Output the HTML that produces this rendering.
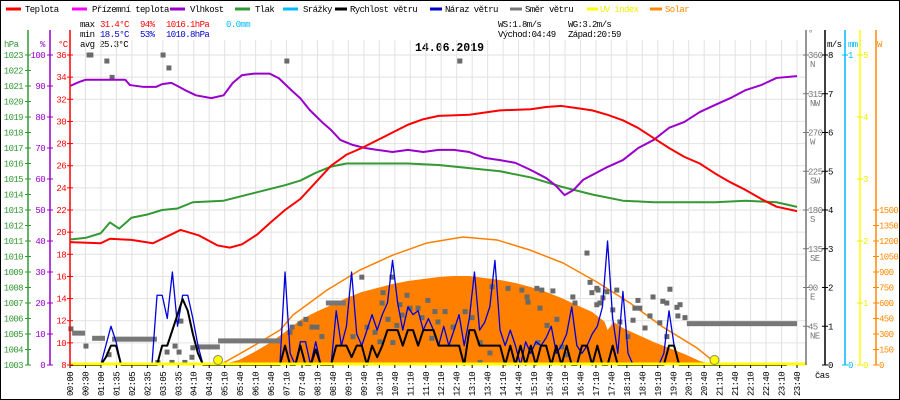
<!DOCTYPE html>
<html><head><meta charset="utf-8"><style>
html,body{margin:0;padding:0;background:#fff}
svg{display:block}
text{font-family:"Liberation Mono",monospace;font-size:9px;letter-spacing:-0.6px}
</style></head><body>
<svg id="chart" width="900" height="400" viewBox="0 0 900 400" xmlns="http://www.w3.org/2000/svg">
<rect x="0.5" y="0.5" width="899" height="399" fill="#fff" stroke="#000"/>
<g id="legend">
<line x1="6" y1="9" x2="21" y2="9" stroke="#f00" stroke-width="3"/><text x="25" y="12">Teplota</text>
<line x1="72" y1="9" x2="87" y2="9" stroke="#f0f" stroke-width="3"/><text x="92" y="12">Přízemní teplota</text>
<line x1="170" y1="9" x2="185" y2="9" stroke="#90c" stroke-width="3"/><text x="190" y="12">Vlhkost</text>
<line x1="235" y1="9" x2="250" y2="9" stroke="#393" stroke-width="3"/><text x="255" y="12">Tlak</text>
<line x1="283" y1="9" x2="298" y2="9" stroke="#0bf" stroke-width="3"/><text x="303" y="12">Srážky</text>
<line x1="335" y1="9" x2="347" y2="9" stroke="#000" stroke-width="3"/><text x="350" y="12">Rychlost větru</text>
<line x1="430" y1="9" x2="442" y2="9" stroke="#00c" stroke-width="3"/><text x="445" y="12">Náraz větru</text>
<line x1="510" y1="9" x2="522" y2="9" stroke="#777" stroke-width="3"/><text x="525" y="12">Směr větru</text>
<line x1="587" y1="9" x2="598" y2="9" stroke="#ff0" stroke-width="3"/><text x="600" y="12" fill="#ee0">UV index</text>
<line x1="650" y1="9" x2="662" y2="9" stroke="#f80" stroke-width="3"/><text x="665" y="12" fill="#f80">Solar</text>
</g>
<g id="stats">
<text x="80" y="27">max</text><text x="100" y="27" fill="#f00">31.4°C</text><text x="140" y="27" fill="#f00">94%</text><text x="166" y="27" fill="#f00">1016.1hPa</text><text x="226" y="27" fill="#0bf">0.0mm</text>
<text x="80" y="37">min</text><text x="100" y="37" fill="#00c">18.5°C</text><text x="140" y="37" fill="#00c">53%</text><text x="166" y="37" fill="#00c">1010.8hPa</text>
<text x="80" y="47">avg 25.3°C</text>
<text x="498" y="27">WS:1.8m/s</text><text x="568" y="27">WG:3.2m/s</text>
<text x="498" y="37">Východ:04:49</text><text x="568" y="37">Západ:20:59</text>
</g>
<text x="415" y="51" style="font-size:11.5px;font-weight:bold;letter-spacing:0">14.06.2019</text>
<g id="grid"></g>
<g id="series"></g>
<g id="axes"></g>
</svg>
<script>
// ---- data ----
const timeLabels=["00:00","00:30","01:00","01:35","02:05","02:35","03:05","03:35","04:10","04:40","05:10","05:40","06:10","06:40","07:10","07:40","08:10","08:40","09:10","09:40","10:10","10:40","11:10","11:40","12:10","12:40","13:10","13:40","14:10","14:40","15:10","15:40","16:10","16:40","17:10","17:40","18:10","18:40","19:10","19:40","20:10","20:40","21:10","21:40","22:10","22:40","23:10","23:40"];
const tempHours=[0,1.0,1.3,2.0,2.7,3.6,4.2,4.8,5.2,5.6,6.1,6.5,7.0,7.5,8.0,8.5,9.0,9.5,10.0,10.5,11.0,11.5,12,13,14,15,15.5,16,16.5,17,17.5,18,18.5,19,19.5,20,20.5,21,21.5,22,22.5,23,23.67];
const tempVals=[19.1,19.0,19.4,19.3,19.0,20.2,19.7,18.8,18.6,18.9,19.8,20.8,22.0,23.0,24.5,26.0,27.0,27.6,28.3,29.0,29.7,30.2,30.5,30.6,31.0,31.1,31.3,31.4,31.2,31.0,30.6,30.1,29.4,28.5,27.6,26.8,26.2,25.3,24.5,23.8,23.0,22.3,21.9];
const humHours=[0,0.3,0.5,1.8,1.95,2.4,2.8,3.0,3.3,3.5,3.8,4.1,4.6,5.0,5.3,5.6,6.0,6.5,6.8,7.2,7.5,7.8,8.2,8.5,8.8,9.2,9.6,10,10.5,11,11.5,12,12.5,13,13.5,14,14.5,15,15.5,15.8,16.1,16.4,16.7,17,17.5,18,18.5,19,19.5,20,20.5,21,21.5,22,22.5,23,23.67];
const humVals=[90,91.3,92,92,90.3,89.7,89.7,90.6,91,90,88.4,87,86.1,87,91,93.5,94,94,92.5,88.7,86,82.3,78.4,75.8,72.6,71,70,69.4,68.7,69.4,68.7,69.4,69.4,68.7,66.8,66.1,65.2,62.9,60.3,58,54.8,56.5,59.7,61.3,63.9,66.1,70,72.6,76.5,78.4,81.6,83.9,86.1,88.7,90.3,92.6,93.2];
const presHours=[0,0.5,1.0,1.3,1.6,2.0,2.5,3.0,3.5,4.0,5,6,7,7.5,8,8.5,9,10,11,12,13,14,15,16,17,18,19,20,21,22,23,23.67];
const presVals=[1011.1,1011.2,1011.5,1012.2,1011.8,1012.5,1012.7,1013,1013.1,1013.5,1013.6,1014.1,1014.6,1014.9,1015.4,1015.8,1016.0,1016.0,1016.0,1015.9,1015.7,1015.5,1015.1,1014.5,1014.0,1013.6,1013.5,1013.5,1013.5,1013.6,1013.5,1013.2];
const solarHours=[4.88,5.5,6.0,6.5,7.0,7.5,8,8.5,9,9.5,10,10.5,11,11.5,12,12.5,13,13.5,14,14.5,15,15.5,16,16.5,17,17.4,17.5,17.7,18,18.5,19,19.5,20,20.5,21];
const solarVals=[0,48,126,213,319,435,513,580,648,706,745,784,813,832,852,861,861,842,823,794,755,706,648,580,513,420,339,416,358,290,223,165,106,39,0];
const solarMaxHours=[4.88,5.86,6.84,7.26,8.37,9.44,10.51,11.62,12.79,13.9,14.97,16.05,17.15,18.23,19.3,20.41,20.93,21.0];
const solarMaxVals=[0,165,339,484,726,919,1064,1181,1239,1210,1113,987,803,600,368,165,40,0];
const speedVals=[0,0,0,0,0,0,0,0.2,0.5,0.5,0,0,0,0,0,0,0,0,0.5,0.5,0.9,1.3,1.7,1.4,0.8,0.3,0,0,0,0,0,0,0,0,0,0,0,0,0,0,0,0,0.5,0,0,0.5,0,0,0.4,0,0,0,0.5,0.5,0.5,0.2,0.5,0.5,0,0.5,0.2,0.5,0.9,0.9,0.9,0.5,0.9,0.9,0.5,0.9,0.9,0.9,0.5,0.5,0.5,0.5,0.5,0,0.9,0.9,0.5,0.5,0.5,0.5,0.5,0,0.5,0,0.5,0,0.5,0,0.5,0.5,0,0.5,0,0.5,0,0,0.5,0.5,0,0.5,0,0,0.5,0,0,0,0,0,0,0,0,0,0,0.5,0.5,0,0,0,0,0,0,0,0,0,0,0,0,0,0,0,0,0,0,0,0,0,0];
const gustVals=[0,0,0,0,0,0,0,0.5,1.0,0.6,0,0,0,0,0,0,0,1.8,1.8,1.2,2.4,1.0,1.8,1.8,1.2,0.5,0,0,0,0,0,0,0,0,0,0,0,0,0,0,0,0,2.4,0.3,0,0.6,0.6,0,0.6,0,0,0,1.4,0.5,1.0,2.4,0.8,0.5,0.9,1.3,0.9,1.3,1.6,2.7,1.6,0.9,1.5,1.3,1.4,0.9,1.2,0.9,0.5,1.0,0.5,0.9,1.3,0.5,1.2,2.4,0.9,1.1,1.5,2.7,0.9,0.5,0.9,0.5,0,0.6,0.3,0.6,0.5,0.7,1.0,0.3,0.5,0.8,1.5,0.5,0.3,0.5,0.8,1.0,1.5,3.2,1.2,0.3,1.9,0.3,0,0,0,0,0,0,0.3,1.4,0.5,0,0,0,0,0,0,0,0,0,0,0,0,0,0,0,0,0,0,0,0,0,0];
const dirHours=[0.03,0.52,1.27,2.86,3.16,3.32,3.42,3.61,3.55,3.74,3.97,4.0,7.16,7.23,7.49,7.68,7.88,8.04,8.2,9.5,9.67,9.21,9.93,10.09,10.19,10.16,10.35,10.64,10.74,10.81,10.97,11.07,11.33,11.46,11.65,11.78,11.98,10.48,10.51,11.88,12.21,12.47,12.86,13.09,13.35,13.74,14.26,14.71,14.88,14.91,15.2,15.36,15.3,15.72,15.85,15.53,16.01,16.37,16.44,15.23,16.18,16.83,16.93,16.99,17.19,17.25,17.35,17.15,17.48,17.67,17.8,17.9,18.16,18.33,18.39,18.49,18.55,18.72,18.88,18.98,19.2,19.3,19.43,19.53,19.76,19.86,20.02,19.79,17.15,13.35,19.43,13.67,0.62,0.68,1.2,1.37,3.03,3.22,7.06,12.69];
const dirDegs=[42,22,12,3,15,3,22,51,15,3,9,20,38,44,48,53,44,44,33,102,44,33,38,27,84,72,53,46,70,58,81,66,66,55,75,31,50,102,26,62,62,44,62,55,26,91,89,87,79,73,89,87,66,86,53,46,21,79,72,26,12,130,96,84,87,72,78,70,85,64,87,50,33,52,66,75,66,43,57,79,49,74,72,88,67,70,55,57,89,3,33,14,360,360,353,334,360,345,353,353];
const dirBarStart=[0.07,0.72,1.37,4.13,4.82,8.33,20.08];
const dirBarEnd=[0.49,1.14,2.83,4.88,6.84,8.98,23.67];
const dirBarDeg=[37,31,30,21,28,72,48];
const sunEvents=[4.82,20.98];

// ---- scales ----
const X0=70,X1=797,YT=55,YB=365,HMAX=23.667;
const xH=h=>X0+h/HMAX*(X1-X0);
const yT=t=>YB-(t-8)/28*(YB-YT);
const yHum=p=>YB-p/100*(YB-YT);
const yP=p=>YB-(p-1003)/20*(YB-YT);
const yW=v=>YB-v/8*(YB-YT);
const yDeg=d=>YB-d/360*(YB-YT);
const ySol=w=>YB-w/1500*155;
const NS="http://www.w3.org/2000/svg";
function mk(tag,attrs,parent){const e=document.createElementNS(NS,tag);for(const k in attrs)e.setAttribute(k,attrs[k]);parent.appendChild(e);return e;}
const grid=document.getElementById('grid'),series=document.getElementById('series'),axes=document.getElementById('axes');

timeLabels.forEach((lab,i)=>{
  const x=X0+i*(X1-X0)/(timeLabels.length-1);
  const l=mk('line',{x1:x,y1:40,x2:x,y2:YB,stroke:'#e2e2e2','stroke-width':1},grid);
  
  
  const t=mk('text',{x:0,y:0,transform:`translate(${x+3},396) rotate(-90)`},axes);
  t.textContent=lab;
  
  
  const tk=mk('line',{x1:x,y1:YB,x2:x,y2:YB+3,stroke:'#000'},axes);
  
  
});
for(let t=8;t<=36;t+=2){
  const l=mk('line',{x1:X0,y1:yT(t),x2:806,y2:yT(t),stroke:'#e2e2e2'},grid);
  
  
}

{
  let d=`M${xH(solarHours[0])},${YB}`;
  solarHours.forEach((h,i)=>{d+=` L${xH(h)},${ySol(solarVals[i])}`});
  d+=` L${xH(solarHours[solarHours.length-1])},${YB} Z`;
  const p=mk('path',{d,fill:'#ff8000'},series);
  
  
}
function poly(hs,vs,yf,color,w,name){
  const pts=hs.map((h,i)=>`${xH(h)},${yf(vs[i])}`).join(' ');
  const p=mk('polyline',{points:pts,fill:'none',stroke:color,'stroke-width':w,'stroke-linejoin':'round'},series);
  
  
}
poly(solarMaxHours,solarMaxVals,ySol,'#ff8000',1.5,'solar-max-line');
dirBarStart.forEach((s,i)=>{
  const r=mk('rect',{x:xH(s),y:yDeg(dirBarDeg[i])-2.5,width:xH(dirBarEnd[i])-xH(s),height:5,fill:'#777'},series);
  
  
});
dirHours.forEach((h,i)=>{
  const r=mk('rect',{x:xH(h)-2.5,y:yDeg(dirDegs[i])-2.5,width:5,height:5,fill:'#6a6a6a'},series);
  
  
});
const tenMin=speedVals.map((v,i)=>i/6);
poly(tenMin,gustVals,yW,'#0000dd',1.3,'gust-line');
poly(tenMin,speedVals,yW,'#000',2,'wind-speed-line');
poly(presHours,presVals,yP,'#339933',2,'pressure-line');
poly(humHours,humVals,yHum,'#9900cc',2,'humidity-line');
poly(tempHours,tempVals,yT,'#ff0000',2,'temperature-line');
{
  const l=mk('line',{x1:X0,y1:YB-1,x2:806,y2:YB-1,stroke:'#ff0',"stroke-width":3},series);
  
  
}
sunEvents.forEach(h=>{
  const c=mk('circle',{cx:xH(h),cy:YB-5,r:4.5,fill:'#ff0',stroke:'#886'},series);
  
  
});

function vline(x,color,name){const l=mk('line',{x1:x,y1:30,x2:x,y2:YB,stroke:color,'stroke-width':1.5},axes);
  
  }
function lab(x,y,txt,color,anchor,name){const t=mk('text',{x,y,fill:color,'text-anchor':anchor||'start'},axes);t.textContent=txt;
  
  
  return t;}
function tick(x1,x2,y,color){const l=mk('line',{x1,y1:y,x2,y2:y,stroke:color},axes);
  
  }
vline(28,'#339933','pressure-axis');vline(50,'#9900cc','humidity-axis');vline(X0,'#ff0000','temperature-axis');
vline(806,'#777','direction-axis');vline(825,'#000','wind-axis');vline(845,'#0bf','rain-axis');vline(860,'#ff0','uv-axis');vline(876,'#f80','solar-axis');
lab(4,47,'hPa','#339933','start','pressure-axis-title');
lab(40,47,'%','#9900cc','start','humidity-axis-title');
lab(58,47,'°C','#f00','start','temperature-axis-title');
for(let p=1003;p<=1023;p++){tick(25,31,yP(p),'#339933');lab(23,yP(p)+3,String(p),'#339933','end','pressure-tick-label');}
for(let h=0;h<=100;h+=10){tick(47,53,yHum(h),'#9900cc');lab(45,yHum(h)+3,String(h),'#9900cc','end','humidity-tick-label');}
for(let t=8;t<=36;t+=2){tick(67,73,yT(t),'#f00');lab(66,yT(t)+3,String(t),'#f00','end','temperature-tick-label');}
const compass=['','NE','E','SE','S','SW','W','NW','N'];
for(let k=1;k<=8;k++){const d=k*45;tick(803,809,yDeg(d),'#777');lab(808,yDeg(d)+3,String(d),'#777','start','direction-tick-label');lab(810,yDeg(d)+12,compass[k],'#777','start','compass-label');}
lab(808,36,'°','#777','start','direction-axis-title');
for(let v=0;v<=8;v++){tick(822,828,yW(v),'#000');lab(828,yW(v)+3,String(v),'#000','start','wind-tick-label');}
lab(827,47,'m/s','#000','start','wind-axis-title');
lab(848,47,'mm','#0bf','start','rain-axis-title');
tick(842,848,YT,'#0bf');lab(848,YT+3,'1','#0bf','start','rain-tick-label');
tick(842,848,YB,'#0bf');lab(848,YB+3,'0','#0bf','start','rain-tick-label');
for(let u=0;u<=5;u++){const y=YB-u*62;tick(857,863,y,'#ee0');lab(863,y+3,String(u),'#ee0','start','uv-tick-label');}
lab(877,47,'W','#f80','start','solar-axis-title');
for(let w=0;w<=1500;w+=150){tick(873,879,ySol(w),'#f80');lab(879,ySol(w)+3,String(w),'#f80','start','solar-tick-label');}
lab(815,378,'čas','#000','start','time-axis-title');
</script>
</body></html>
